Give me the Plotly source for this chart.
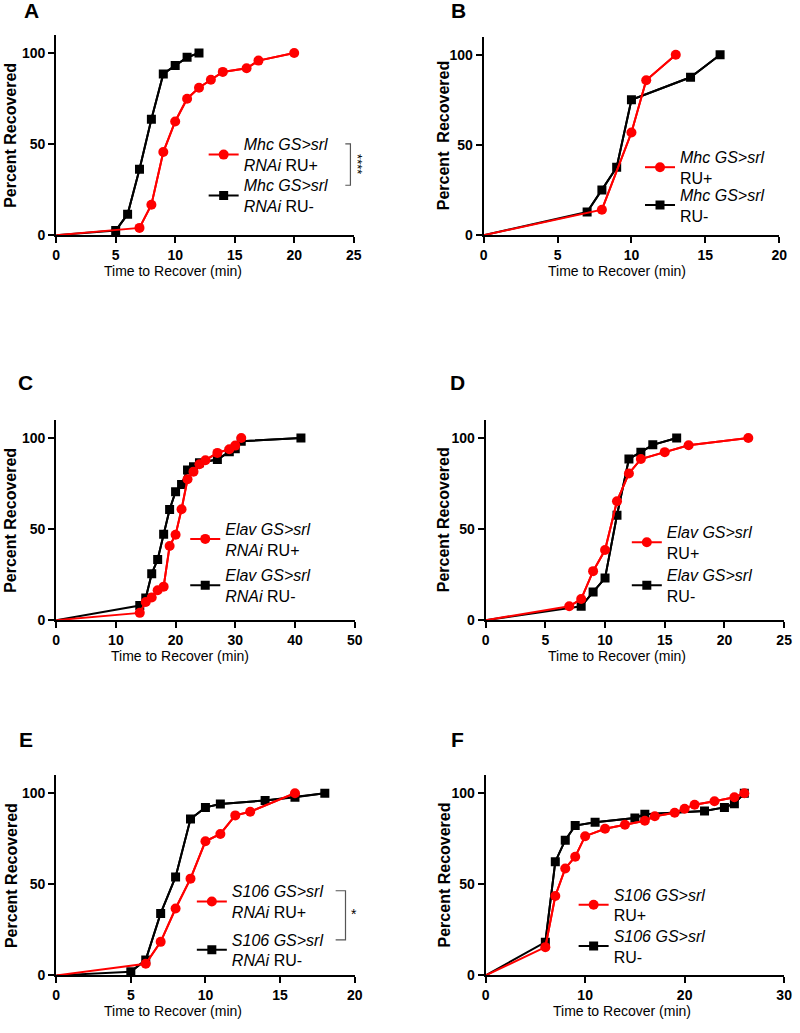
import plotly.graph_objects as go

W, H = 800, 1033

# ---------------- data ----------------
# Panel A: Mhc GS>srl RNAi
a_x_pos = [0, 7, 8, 9, 10, 11, 12, 13, 14, 16, 17, 20]
a_y_pos = [0, 4.0, 16.7, 45.6, 62.4, 74.9, 80.9, 85.3, 89.6, 91.6, 95.8, 100]
a_x_neg = [0, 5, 6, 7, 8, 9, 10, 11, 12]
a_y_neg = [0, 2.5, 11.5, 36.2, 63.6, 88.5, 93.1, 97.6, 100]

# Panel B: Mhc GS>srl
b_x_pos = [0, 8, 10, 11, 13]
b_y_pos = [0, 14.1, 56.9, 85.9, 100]
b_x_neg = [0, 7, 8, 9, 10, 14, 16]
b_y_neg = [0, 12.8, 25.1, 37.6, 75.0, 87.5, 100]

# Panel C: Elav GS>srl RNAi
c_x_pos = [0, 14, 15, 16, 17, 18, 19, 20, 21, 22, 23, 24, 25, 27, 29, 30, 31]
c_y_pos = [0, 4.0, 10.0, 12.4, 16.4, 18.4, 40.7, 46.9, 60.9, 77.3, 81.5, 85.6, 87.8, 91.8, 93.8, 95.8, 100]
c_x_neg = [0, 14, 15, 16, 17, 18, 19, 20, 21, 22, 23, 24, 27, 29, 30, 31, 41]
c_y_neg = [0, 8.0, 12.2, 25.5, 33.3, 47.1, 60.7, 70.5, 74.4, 82.4, 84.2, 86.4, 88.2, 92.4, 94.0, 98.2, 100]

# Panel D: Elav GS>srl
d_x_pos = [0, 7, 8, 9, 10, 11, 12, 13, 15, 17, 22]
d_y_pos = [0, 7.6, 11.6, 26.9, 38.5, 65.3, 80.5, 88.4, 92.2, 96.0, 100]
d_x_neg = [0, 8, 9, 10, 11, 12, 13, 14, 16]
d_y_neg = [0, 7.6, 15.5, 23.1, 57.6, 88.5, 92.2, 96.2, 100]

# Panel E: S106 GS>srl RNAi
e_x_pos = [0, 6, 7, 8, 9, 10, 11, 12, 13, 16]
e_y_pos = [0, 6.4, 18.4, 36.7, 53.1, 73.6, 77.6, 87.8, 89.8, 100]
e_x_neg = [0, 5, 6, 7, 8, 9, 10, 11, 14, 16, 18]
e_y_neg = [0, 2.0, 8.5, 34.0, 54.0, 85.8, 92.2, 94.0, 96.0, 97.8, 100]

# Panel F: S106 GS>srl
f_x_pos = [0, 6, 7, 8, 9, 10, 12, 14, 16, 17, 19, 20, 21, 23, 25, 26]
f_y_pos = [0, 15.5, 43.6, 58.7, 65.1, 76.4, 80.5, 82.7, 84.9, 87.3, 89.3, 91.5, 93.6, 95.6, 97.8, 100]
f_x_neg = [0, 6, 7, 8, 9, 11, 15, 16, 22, 24, 25, 26]
f_y_neg = [0, 18.2, 62.4, 74.2, 82.2, 84.0, 86.4, 88.4, 90.2, 92.2, 94.2, 100]

# legend labels
a_lab_pos = "<i>Mhc GS&gt;srl</i><br><i>RNAi</i> RU+"
a_lab_neg = "<i>Mhc GS&gt;srl</i><br><i>RNAi</i> RU-"
b_lab_pos = "<i>Mhc GS&gt;srl</i><br>RU+"
b_lab_neg = "<i>Mhc GS&gt;srl</i><br>RU-"
c_lab_pos = "<i>Elav GS&gt;srl</i><br><i>RNAi</i> RU+"
c_lab_neg = "<i>Elav GS&gt;srl</i><br><i>RNAi</i> RU-"
d_lab_pos = "<i>Elav GS&gt;srl</i><br>RU+"
d_lab_neg = "<i>Elav GS&gt;srl</i><br>RU-"
e_lab_pos = "<i>S106 GS&gt;srl</i><br><i>RNAi</i> RU+"
e_lab_neg = "<i>S106 GS&gt;srl</i><br><i>RNAi</i> RU-"
f_lab_pos = "<i>S106 GS&gt;srl</i><br>RU+"
f_lab_neg = "<i>S106 GS&gt;srl</i><br>RU-"

letters = ["A", "B", "C", "D", "E", "F"]
x_ranges = [25, 20, 50, 25, 20, 30]
x_dticks = [5, 5, 10, 5, 5, 10]
y_ticks = [0, 50, 100]

# ---------------- layout geometry (pixels) ----------------
def px(x):
    return x / W

def py(y):
    return 1 - y / H

# (left, right, top, bottom) in pixels
boxes = [
    (53, 355, 35, 237),
    (487, 787, 37, 237),
    (53, 356, 423, 625),
    (489, 792, 423, 625),
    (53, 356, 781, 983),
    (489, 792, 781, 983),
]

FONT = "Liberation Sans, Arial, sans-serif"
RED = "#FF0000"
BLACK = "#000000"

panels = [
    (a_x_pos, a_y_pos, a_x_neg, a_y_neg, a_lab_pos, a_lab_neg),
    (b_x_pos, b_y_pos, b_x_neg, b_y_neg, b_lab_pos, b_lab_neg),
    (c_x_pos, c_y_pos, c_x_neg, c_y_neg, c_lab_pos, c_lab_neg),
    (d_x_pos, d_y_pos, d_x_neg, d_y_neg, d_lab_pos, d_lab_neg),
    (e_x_pos, e_y_pos, e_x_neg, e_y_neg, e_lab_pos, e_lab_neg),
    (f_x_pos, f_y_pos, f_x_neg, f_y_neg, f_lab_pos, f_lab_neg),
]

# legend placement: (left px of legend, middle y px) for RU+ and RU-
leg_pos = [
    ((202.7, 156.0), (202.7, 197.3)),
    ((645.7, 168.7), (645.7, 206.7)),
    ((184.0, 543.3), (184.0, 590.0)),
    ((632.3, 546.7), (632.3, 590.0)),
    ((190.7, 908.7), (190.7, 957.3)),
    ((578.3, 912.0), (578.3, 953.7)),
]

fig = go.Figure()
layout = dict(
    width=W, height=H, autosize=False,
    margin=dict(l=0, r=0, t=0, b=0),
    paper_bgcolor="white", plot_bgcolor="white",
    font=dict(family=FONT, color="black"),
)

annotations = []
shapes = []

for i, (xp, yp, xn, yn, lp, ln) in enumerate(panels):
    k = "" if i == 0 else str(i + 1)
    xa, ya = "x" + k, "y" + k
    l, r, t, b = boxes[i]
    lg_pos = "legend" + ("" if i == 0 else str(2 * i + 1))
    lg_neg = "legend" + str(2 * i + 2)

    # black (RU-) first, red (RU+) on top
    for xs, ys, col, sym, size, lab, lg in [
        (xn, yn, BLACK, "square", 9, ln, lg_neg),
        (xp, yp, RED, "circle", 10, lp, lg_pos),
    ]:
        fig.add_trace(go.Scatter(
            x=xs, y=ys, mode="lines", xaxis=xa, yaxis=ya,
            line=dict(color=col, width=2), showlegend=False, hoverinfo="skip",
        ))
        fig.add_trace(go.Scatter(
            x=xs[1:], y=ys[1:], mode="lines+markers", xaxis=xa, yaxis=ya,
            line=dict(color=col, width=2),
            marker=dict(color=col, symbol=sym, size=size, line=dict(width=0)),
            name=lab, legend=lg, showlegend=True,
        ))

    axis_common = dict(
        showline=True, linewidth=2, linecolor="black", mirror=False,
        ticks="outside", ticklen=6, tickwidth=2, tickcolor="black",
        showgrid=False, zeroline=False,
        tickfont=dict(family=FONT, size=14, color="black", weight="bold"),
    )
    layout["xaxis" + k] = dict(
        axis_common, domain=[px(l), px(r)], range=[0, x_ranges[i]],
        tick0=0, dtick=x_dticks[i], anchor=ya,
    )
    layout["yaxis" + k] = dict(
        axis_common, domain=[py(b), py(t)], range=[0, 110],
        tickvals=y_ticks, anchor=xa,
    )

    # legends
    (lx1, ly1), (lx2, ly2) = leg_pos[i]
    for name, (lx, ly) in [(lg_pos, (lx1, ly1)), (lg_neg, (lx2, ly2))]:
        layout[name] = dict(
            x=px(lx), y=py(ly), xanchor="left", yanchor="middle",
            bgcolor="rgba(0,0,0,0)", borderwidth=0,
            font=dict(family=FONT, size=16, color="black"),
            itemclick=False, itemdoubleclick=False,
        )

# panel letters
letter_pos = [(28, 11), (461, 11), (22, 385), (460, 385), (22, 745), (460, 745)]
for txt, (lx, ly) in zip(letters, letter_pos):
    annotations.append(dict(
        text="<b>%s</b>" % txt, x=px(lx), y=py(ly), xref="paper", yref="paper",
        xanchor="center", yanchor="middle", showarrow=False,
        font=dict(family=FONT, size=21, color="black"),
    ))

# y titles
ytitle_x = [7, 447, 7, 447, 7, 447]
ytitle_txt = ["Percent Recovered", "Percent\u00a0 Recovered", "Percent Recovered",
              "Percent Recovered", "Percent Recovered", "Percent Recovered"]
for i, (l, r, t, b) in enumerate(boxes):
    annotations.append(dict(
        text="<b>%s</b>" % ytitle_txt[i], x=px(ytitle_x[i]), y=py((t + b) / 2),
        xref="paper", yref="paper", xanchor="center", yanchor="middle",
        textangle=-90, showarrow=False,
        font=dict(family=FONT, size=16, color="black"),
    ))

# x titles
xtitle_pos = [(172, 273), (622, 273), (179, 661), (622, 661), (172, 1019), (627, 1019)]
for (tx, ty) in xtitle_pos:
    annotations.append(dict(
        text="Time to Recover (min)", x=px(tx), y=py(ty), xref="paper", yref="paper",
        xanchor="center", yanchor="middle", showarrow=False,
        font=dict(family=FONT, size=14, color="black"),
    ))

# significance brackets
GRAY = "#555555"
def bracket(x0, x1, y0, y1):
    shapes.append(dict(type="path", xref="paper", yref="paper",
                       path="M %f %f L %f %f L %f %f L %f %f" % (
                           px(x0), py(y0), px(x1), py(y0), px(x1), py(y1), px(x0), py(y1)),
                       line=dict(color=GRAY, width=1.2)))

bracket(346.5, 351.7, 145, 186.7)
annotations.append(dict(text="****", x=px(359), y=py(165), xref="paper", yref="paper",
                        xanchor="center", yanchor="middle", textangle=90, showarrow=False,
                        font=dict(family=FONT, size=13, color="black")))
bracket(336.7, 346.7, 897.7, 947.3)
annotations.append(dict(text="*", x=px(355.7), y=py(921), xref="paper", yref="paper",
                        xanchor="center", yanchor="middle", showarrow=False,
                        font=dict(family=FONT, size=14, color="black")))

layout["annotations"] = annotations
layout["shapes"] = shapes
fig.update_layout(**layout)

fig.write_html("out.html", config={"displayModeBar": False},
               post_script="document.body.style.margin='0';")
